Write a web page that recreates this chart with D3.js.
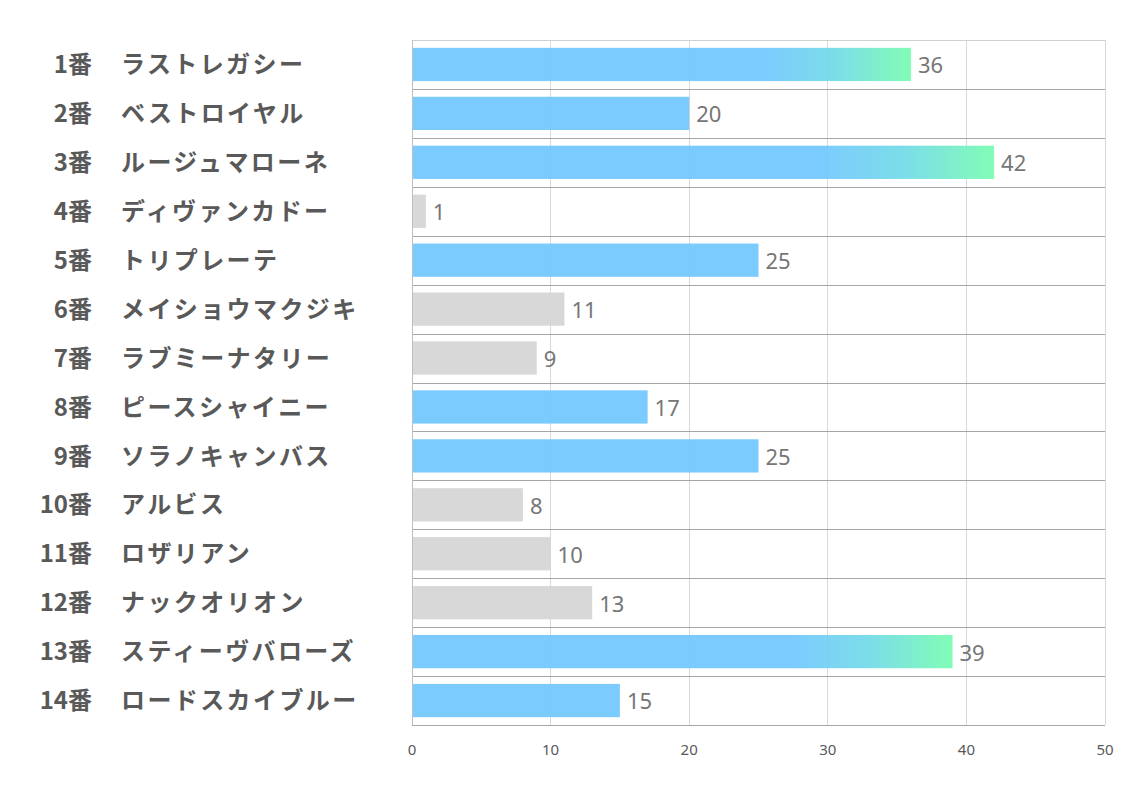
<!DOCTYPE html>
<html><head><meta charset="utf-8">
<script src="https://cdn.jsdelivr.net/npm/d3@7"></script>
<style>body{margin:0;background:#fff}svg{display:block}</style>
</head><body>
<svg id="c" width="1134" height="793"></svg>
<script>
const numbers = ["1番","2番","3番","4番","5番","6番","7番","8番","9番","10番","11番","12番","13番","14番"];
const names = ["ラストレガシー","ベストロイヤル","ルージュマローネ","ディヴァンカドー","トリプレーテ","メイショウマクジキ","ラブミーナタリー","ピースシャイニー","ソラノキャンバス","アルビス","ロザリアン","ナックオリオン","スティーヴバローズ","ロードスカイブルー"];
const values = [36,20,42,1,25,11,9,17,25,8,10,13,39,15];
const xTicks = [0,10,20,30,40,50];

const svg = d3.select("#c");
const L = 412, R = 1105, T = 40, B = 725;
const x = d3.scaleLinear().domain([0,50]).range([L,R]);
const y = d3.scaleBand().domain(d3.range(values.length)).range([T,B]).paddingInner(0.32).paddingOuter(0.16);
const step = y.step();

const defs = svg.append("defs");
const g = defs.append("linearGradient").attr("id","grad").attr("x1","0").attr("x2","1").attr("y1","0").attr("y2","0");
g.append("stop").attr("offset","0%").attr("stop-color","#71c7ff");
g.append("stop").attr("offset","70%").attr("stop-color","#71c7ff");
g.append("stop").attr("offset","85%").attr("stop-color","#72dbe6");
g.append("stop").attr("offset","100%").attr("stop-color","#78fcb0");

// vertical gridlines
svg.append("g").selectAll("line").data(xTicks).join("line")
  .attr("x1",d=>x(d)).attr("x2",d=>x(d)).attr("y1",T).attr("y2",B)
  .attr("stroke","#d9d9d9").attr("stroke-width",1).attr("shape-rendering","crispEdges");

// row separators
svg.append("g").selectAll("line").data(d3.range(values.length+1)).join("line")
  .attr("x1",L).attr("x2",R)
  .attr("y1",i=>Math.round(T+i*step)+0.5).attr("y2",i=>Math.round(T+i*step)+0.5)
  .attr("stroke",i=>i===0?"#d0d0d0":"#a6a6a6").attr("stroke-width",1);

// left axis line
svg.append("line").attr("x1",L+0.5).attr("x2",L+0.5).attr("y1",T).attr("y2",B)
  .attr("stroke","#bfbfbf");

// bars
svg.append("g").selectAll("rect").data(values).join("rect")
  .attr("x",L+1).attr("y",(d,i)=>y(i)).attr("height",y.bandwidth())
  .attr("width",d=>x(d)-L-1)
  .attr("fill",d=>d>=30?"url(#grad)":(d>=15?"#71c7ff":"#d5d5d5"))
  .attr("fill-opacity",0.93);

// value labels
svg.append("g").selectAll("text").data(values).join("text")
  .attr("x",d=>x(d)+7).attr("y",(d,i)=>y(i)+y.bandwidth()/2+1)
  .attr("dy","0.36em").attr("fill","#767676")
  .attr("font-family","'Noto Sans', 'Open Sans', sans-serif").attr("font-size",22)
  .text(d=>d);

// category labels
const lab = svg.append("g").attr("font-family","'Noto Sans CJK JP', sans-serif").attr("font-weight","bold")
  .attr("fill","#595959");
lab.selectAll("text.num").data(numbers).join("text").attr("class","num")
  .attr("x",92).attr("y",(d,i)=>y(i)+y.bandwidth()/2).attr("dy","0.36em")
  .attr("font-size",24).attr("text-anchor","end").text(d=>d);
lab.selectAll("text.nm").data(names).join("text").attr("class","nm")
  .attr("x",121).attr("y",(d,i)=>y(i)+y.bandwidth()/2).attr("dy","0.36em")
  .attr("font-size",24).attr("letter-spacing",2.4).text(d=>d);

// x axis labels
svg.append("g").selectAll("text").data(xTicks).join("text")
  .attr("x",d=>x(d)).attr("y",755).attr("text-anchor","middle")
  .attr("font-family","'Noto Sans', sans-serif").attr("font-size",15).attr("fill","#595959")
  .text(d=>d);
</script>
</body></html>
